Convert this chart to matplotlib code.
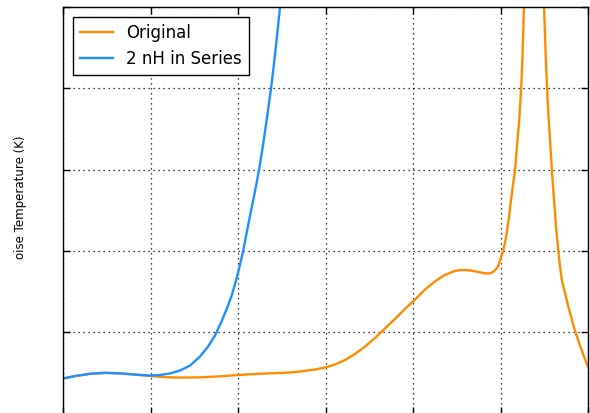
import matplotlib
matplotlib.use("Agg")
import matplotlib.pyplot as plt

# Frequency (GHz) and noise temperature (K) for the original design
freq_orig = [0.000, 0.069, 0.154, 0.240, 0.326, 0.411, 0.497, 0.583, 0.669, 0.783,
             0.897, 0.994, 1.126, 1.269, 1.354, 1.440, 1.497, 1.554, 1.611, 1.669,
             1.726, 1.783, 1.840, 1.897, 1.954, 2.000, 2.069, 2.126, 2.183, 2.240,
             2.280, 2.326, 2.371, 2.411, 2.440, 2.463, 2.486, 2.503, 2.514, 2.526,
             2.537, 2.549, 2.560, 2.571, 2.583, 2.594, 2.606, 2.614, 2.620, 2.626,
             2.634, 2.646, 2.691, 2.737, 2.749, 2.757, 2.766, 2.774, 2.783, 2.794,
             2.806, 2.817, 2.829, 2.840, 2.851, 2.869, 2.886, 2.903, 2.920, 2.937,
             2.954, 2.977, 3.000]
temp_orig = [43.1, 46.2, 48.9, 50.1, 49.5, 48.0, 46.2, 44.8, 44.3, 44.6,
             45.8, 47.4, 49.0, 50.2, 51.7, 54.2, 56.7, 60.3, 65.9, 73.3,
             82.5, 93.0, 104.7, 116.4, 128.7, 137.9, 152.7, 162.6, 170.6, 175.5,
             176.7, 176.1, 174.3, 172.4, 172.4, 174.9, 181.0, 192.1, 199.5, 210.6,
             224.1, 242.6, 262.3, 280.8, 299.3, 328.8, 358.4, 385.5, 410.1, 440.9,
             500.0, 600.0, 1000.0, 600.0, 500.0, 447.0, 400.2, 367.0, 336.2, 298.0,
             262.3, 230.3, 203.2, 181.0, 163.8, 147.8, 133.0, 119.5, 105.9, 94.8,
             83.7, 70.2, 57.9]

# Frequency (GHz) and noise temperature (K) with a 2 nH series inductor
freq_series = [0.000, 0.069, 0.154, 0.240, 0.326, 0.411, 0.497, 0.554, 0.611, 0.669,
               0.726, 0.783, 0.829, 0.869, 0.903, 0.937, 0.966, 0.989, 1.009, 1.029,
               1.051, 1.074, 1.097, 1.120, 1.143, 1.166, 1.189, 1.206, 1.223, 1.240,
               1.257]
temp_series = [43.1, 46.2, 48.9, 50.1, 49.5, 48.0, 46.8, 47.4, 49.3, 53.0,
               59.1, 70.2, 82.5, 96.1, 112.1, 129.3, 146.6, 163.8, 181.0, 199.5,
               224.1, 248.8, 273.4, 299.3, 330.0, 364.5, 400.2, 431.0, 464.3, 500.0,
               535.7]

labels = ["Original", "2 nH in Series"]
colors = ["#FF8C00", "#1E90FF"]

x_grid = [0.0, 0.5, 1.0, 1.5, 2.0, 2.5, 3.0]
y_grid = [0, 100, 200, 300, 400, 500]

W, H = 590, 413
fig = plt.figure(figsize=(W / 100, H / 100), dpi=100)
bottom_px = 413.6
top_px = 7
ax = fig.add_axes([63 / W, 1 - bottom_px / H, 525 / W, (bottom_px - top_px) / H])

ax.plot(freq_orig, temp_orig, color=colors[0], lw=1.7, label=labels[0],
        solid_joinstyle="round")
ax.plot(freq_series, temp_series, color=colors[1], lw=1.7, label=labels[1],
        solid_joinstyle="round")

ax.set_xlim(0, 3)
ax.set_ylim(0, 500)
ax.set_xticks(x_grid)
ax.set_yticks(y_grid)
ax.tick_params(direction="in", length=5, width=1, top=True, right=True,
               labelbottom=False, labelleft=False, color="black")
ax.grid(True, color="black", linestyle=(0, (1, 3)), linewidth=0.9)
for s in ax.spines.values():
    s.set_color("black")
    s.set_linewidth(1.0)

leg = ax.legend(loc="upper left", fontsize=12, fancybox=False, framealpha=1,
                edgecolor="black", handlelength=2.0, borderaxespad=0.6)
leg.get_frame().set_linewidth(1.0)

fig.text(21 / W, 1 - 197 / H, "oise Temperature (K)", rotation=90,
         ha="center", va="center", fontsize=8.5)

fig.savefig("out.png", dpi=100)
